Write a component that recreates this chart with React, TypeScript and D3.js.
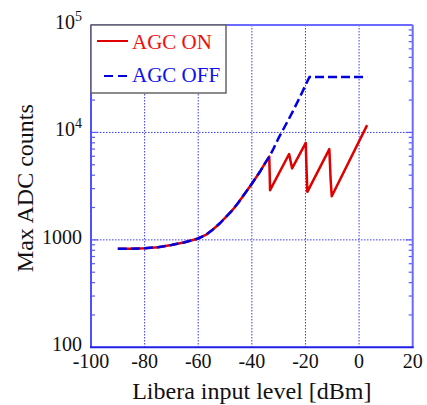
import React from 'react';
import * as d3 from 'd3';

// AGC OFF: input level [dBm] vs max ADC counts
const offLevels = [-90, -85, -80, -75, -70, -65, -60, -57, -55, -52, -50, -47.5, -45, -42, -40, -37, -35, -33.5, -32, -30, -28, -25, -22, -20, -19, -18.5, 3];
const offCounts = [825, 828, 835, 855, 895, 950, 1030, 1120, 1220, 1420, 1600, 1860, 2230, 2830, 3330, 4300, 5200, 5950, 7000, 8900, 11000, 15200, 21500, 27500, 31000, 32768, 32768];

// AGC ON
const onLevels = [-90, -85, -80, -75, -70, -65, -60, -57, -55, -52, -50, -47.5, -45, -42, -40, -37, -35, -33.5, -33.2, -26.1, -25.0, -19.9, -19.7, -19.3, -11.1, -10.6, -10.2, 3.0];
const onCounts = [825, 828, 835, 855, 895, 950, 1030, 1120, 1220, 1420, 1600, 1860, 2230, 2830, 3330, 4300, 5200, 5950, 2900, 6300, 4630, 8000, 5440, 2800, 7000, 3600, 2550, 11700];

const xTicks = [-100, -80, -60, -40, -20, 0, 20];
const yMajor = [100, 1000, 10000, 100000];
const yLabels = ['100', '1000', '10|4', '10|5'];

const W = 427;
const H = 405;
const M = { left: 91, right: 412.7, top: 25, bottom: 347.3 };
const font = '"Liberation Serif", "Times New Roman", serif';

export default function App() {
  const x = d3.scaleLinear().domain([-100, 20]).range([M.left, M.right]);
  const y = d3.scaleLog().domain([100, 100000]).range([M.bottom, M.top]);

  const line = d3
    .line<[number, number]>()
    .x(d => x(d[0]))
    .y(d => y(d[1]));

  const onPts = onLevels.map((v, i) => [v, onCounts[i]] as [number, number]);
  const offPts = offLevels.map((v, i) => [v, offCounts[i]] as [number, number]);

  const minor: number[] = [];
  for (let dec = 100; dec < 100000; dec *= 10) {
    for (let k = 2; k <= 9; k++) minor.push(dec * k);
  }

  const gridX = xTicks.slice(1, -1);
  const gridY = [1000, 10000];

  return (
    <svg width={W} height={H} style={{ position: 'absolute', left: 0, top: 0 }} fontFamily={font}>
      <rect x={0} y={0} width={W} height={H} fill="white" />

      {/* grid */}
      {gridX.map(v => (
        <line key={'gx' + v} x1={x(v)} x2={x(v)} y1={M.top} y2={M.bottom} stroke="#3a3aff" strokeWidth={1} strokeDasharray="1.5,1.5" />
      ))}
      {gridY.map(v => (
        <line key={'gy' + v} x1={M.left} x2={M.right} y1={y(v)} y2={y(v)} stroke="#3a3aff" strokeWidth={1} strokeDasharray="1.5,1.5" />
      ))}

      {/* ticks, inside on left and right */}
      {minor.map(v => (
        <g key={'m' + v}>
          <line x1={M.left} x2={M.left + 4} y1={y(v)} y2={y(v)} stroke="#5a5aff" strokeWidth={1.2} />
          <line x1={M.right} x2={M.right - 4} y1={y(v)} y2={y(v)} stroke="#5a5aff" strokeWidth={1.2} />
        </g>
      ))}
      {gridY.map(v => (
        <g key={'M' + v}>
          <line x1={M.left} x2={M.left + 7} y1={y(v)} y2={y(v)} stroke="#5a5aff" strokeWidth={1.2} />
          <line x1={M.right} x2={M.right - 7} y1={y(v)} y2={y(v)} stroke="#5a5aff" strokeWidth={1.2} />
        </g>
      ))}

      {/* frame */}
      <line x1={M.left} x2={M.right} y1={M.top} y2={M.top} stroke="#6a6aff" strokeWidth={2} />
      <line x1={M.right} x2={M.right} y1={M.top} y2={M.bottom} stroke="#6a6aff" strokeWidth={2} />
      <line x1={M.left} x2={M.left} y1={M.top} y2={M.bottom} stroke="#5050ff" strokeWidth={2} />
      <line x1={M.left - 1} x2={M.right + 1} y1={M.bottom} y2={M.bottom} stroke="#2020e8" strokeWidth={2} />

      {/* data */}
      <path d={line(onPts) || ''} fill="none" stroke="#e00000" strokeWidth={2.5} strokeLinejoin="round" />
      <path d={line(offPts) || ''} fill="none" stroke="#0000e0" strokeWidth={2.5} strokeDasharray="9,4" />

      {/* y tick labels */}
      {yMajor.map((v, i) => {
        const [base, sup] = yLabels[i].split('|');
        if (!sup) {
          return (
            <text key={'yl' + v} x={82} y={y(v) + 4} fontSize={20} textAnchor="end" fill="#111">
              {base}
            </text>
          );
        }
        return (
          <text key={'yl' + v} x={55} y={y(v) + 4} fontSize={20} fill="#111">
            {base}
            <tspan fontSize={14} dy={-8}>
              {sup}
            </tspan>
          </text>
        );
      })}

      {/* x tick labels */}
      {xTicks.map(v => (
        <text key={'xl' + v} x={x(v)} y={368} fontSize={20} textAnchor="middle" fill="#111">
          {v}
        </text>
      ))}

      {/* axis titles */}
      <text x={(M.left + M.right) / 2} y={399} fontSize={24} textAnchor="middle" fill="#111">
        Libera input level [dBm]
      </text>
      <text transform={`translate(33, ${(M.top + M.bottom) / 2 + 2}) rotate(-90)`} fontSize={24} textAnchor="middle" fill="#111">
        Max ADC counts
      </text>

      {/* legend */}
      <rect x={M.left} y={M.top} width={135} height={68} fill="white" stroke="#666" strokeWidth={1.5} />
      <line x1={97} x2={128} y1={41} y2={41} stroke="#e00000" strokeWidth={2} />
      <text x={132} y={49} fontSize={21} fill="#ee1010">
        AGC ON
      </text>
      <line x1={104} x2={128} y1={76} y2={76} stroke="#0000e0" strokeWidth={2} strokeDasharray="9,5" />
      <text x={132} y={82} fontSize={21} fill="#1010ee">
        AGC OFF
      </text>
    </svg>
  );
}
